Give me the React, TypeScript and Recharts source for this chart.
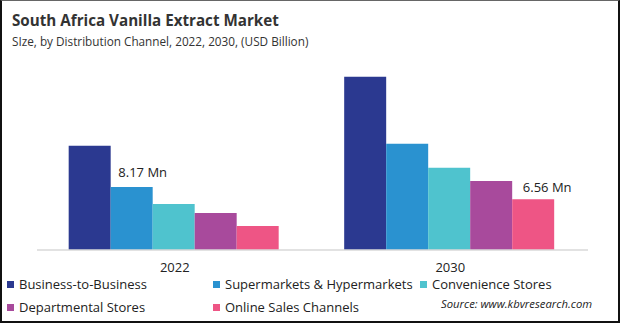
import React from 'react';
import { BarChart, Bar, XAxis, YAxis, LabelList } from 'recharts';

const years = ['2022', '2030'];
const b2b = [13.49, 22.44];
const supermarkets = [8.17, 13.75];
const convenience = [5.97, 10.64];
const departmental = [4.8, 8.95];
const online = [3.11, 6.56];

const SERIES = [
  { key: 'b2b', name: 'Business-to-Business', color: '#2B3990', values: b2b },
  { key: 'super', name: 'Supermarkets & Hypermarkets', color: '#2A92D0', values: supermarkets },
  { key: 'conv', name: 'Convenience Stores', color: '#4FC3CE', values: convenience },
  { key: 'dept', name: 'Departmental Stores', color: '#A84A9C', values: departmental },
  { key: 'online', name: 'Online Sales Channels', color: '#EE5585', values: online },
];

const data = years.map((year, i) => {
  const row: Record<string, string | number> = { year };
  SERIES.forEach((s) => {
    row[s.key] = s.values[i];
  });
  return row;
});

const FONT = '"Open Sans", "Noto Sans", sans-serif';

// legend slots: [left, centre y] for each series
const LEGEND_POS: [number, number][] = [
  [7, 284],
  [213, 284],
  [420, 284],
  [7, 307],
  [213, 307],
];

// label shown only on one bar of a series
const makeLabel = (showIndex: number, dx: number, dy: number) => (props: any) => {
  const { x, y, width, value, index } = props;
  if (index !== showIndex) return null;
  return (
    <text
      x={x + width / 2 + dx}
      y={y + dy}
      textAnchor="middle"
      dominantBaseline="central"
      fontSize={13}
      fontFamily={FONT}
      fill="#222"
    >
      {`${value.toFixed(2)} Mn`}
    </text>
  );
};

const YearTick = (props: any) => {
  const { x, y, payload } = props;
  return (
    <text x={x} y={y + 9} textAnchor="middle" dominantBaseline="central" fontSize={13} fontFamily={FONT} fill="#222">
      {payload.value}
    </text>
  );
};

export default function App() {
  return (
    <div style={{ position: 'absolute', left: 0, top: 0, width: 620, height: 323, background: '#fff', overflow: 'hidden' }}>
      <div style={{ position: 'absolute', left: 12, top: 10, fontFamily: FONT, fontWeight: 700, fontSize: 15.2, color: '#333' }}>
        South Africa Vanilla Extract Market
      </div>
      <div style={{ position: 'absolute', left: 12, top: 33, fontFamily: FONT, fontSize: 11.75, color: '#333' }}>
        SIze, by Distribution Channel, 2022, 2030, (USD Billion)
      </div>
      <div style={{ position: 'absolute', left: 0, top: 0 }}>
        <BarChart
          width={620}
          height={323}
          data={data}
          margin={{ top: 57, right: 32, left: 37, bottom: 43 }}
          barCategoryGap="11.5%"
          barGap={0}
        >
          <XAxis
            dataKey="year"
            axisLine={{ stroke: '#d9d9d9', strokeWidth: 1.5 }}
            tickLine={false}
            tick={<YearTick />}
            height={30}
          />
          <YAxis hide domain={[0, 25]} />
          {SERIES.map((s) => (
            <Bar key={s.key} dataKey={s.key} name={s.name} fill={s.color} isAnimationActive={false}>
              {s.key === 'super' && <LabelList dataKey={s.key} content={makeLabel(0, 11, -15)} />}
              {s.key === 'online' && <LabelList dataKey={s.key} content={makeLabel(1, 14, -12)} />}
            </Bar>
          ))}
        </BarChart>
      </div>
      {SERIES.map((s, i) => (
        <div
          key={s.key}
          style={{
            position: 'absolute',
            left: LEGEND_POS[i][0],
            top: LEGEND_POS[i][1] - 8,
            height: 16,
            lineHeight: '16px',
            display: 'flex',
            alignItems: 'center',
            fontFamily: FONT,
            fontSize: 13,
            color: '#222',
            whiteSpace: 'nowrap',
          }}
        >
          <span style={{ width: 7, height: 7, background: s.color, marginRight: 5 }} />
          {s.name}
        </div>
      ))}
      <div
        style={{
          position: 'absolute',
          left: 441,
          top: 304 - 8,
          height: 16,
          lineHeight: '16px',
          fontFamily: FONT,
          fontSize: 11.3,
          fontStyle: 'italic',
          color: '#222',
          whiteSpace: 'nowrap',
        }}
      >
        Source: www.kbvresearch.com
      </div>
      <div
        style={{
          position: 'absolute',
          inset: 0,
          borderTop: '1px solid #666',
          borderLeft: '2px solid #111',
          borderRight: '2px solid #111',
          borderBottom: '2px solid #111',
          boxSizing: 'border-box',
          pointerEvents: 'none',
        }}
      />
    </div>
  );
}
